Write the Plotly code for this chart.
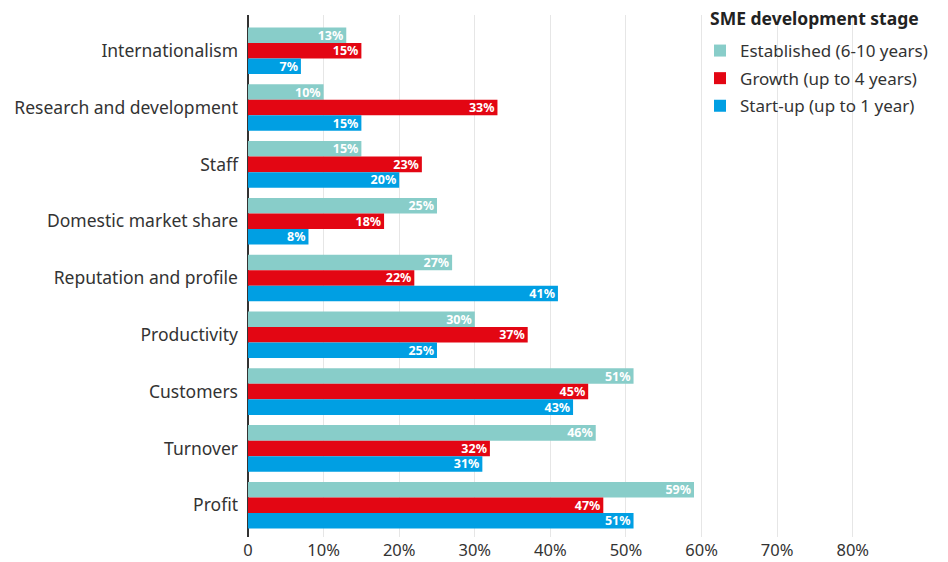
import plotly.graph_objects as go

categories = ["Internationalism", "Research and development", "Staff", "Domestic market share",
              "Reputation and profile", "Productivity", "Customers", "Turnover", "Profit"]
established = [13, 10, 15, 25, 27, 30, 51, 46, 59]
growth = [15, 33, 23, 18, 22, 37, 45, 32, 47]
startup = [7, 15, 20, 8, 41, 25, 43, 31, 51]
series_names = ["Established (6-10 years)", "Growth (up to 4 years)", "Start-up (up to 1 year)"]
colors = ["#88CDC9", "#E30613", "#009FE3"]
tick_vals = [0, 10, 20, 30, 40, 50, 60, 70, 80]
tick_text = ["0", "10%", "20%", "30%", "40%", "50%", "60%", "70%", "80%"]
legend_title = "SME development stage"

FONT = "'Noto Sans', 'Open Sans', sans-serif"
fig = go.Figure()
for i, (name, vals, col) in enumerate(zip(series_names, [established, growth, startup], colors)):
    fig.add_trace(go.Bar(
        y=categories, x=vals, name=name, orientation="h", legendgroup=f"g{i}",
        marker=dict(color=col, line=dict(width=0)),
        text=[f"{v}%" for v in vals], textposition="inside", insidetextanchor="end",
        textfont=dict(color="white", size=12.5, family=FONT, weight="bold"),
        constraintext="none", cliponaxis=False,
    ))

fig.add_annotation(text=f"<b>{legend_title}</b>", xref="paper", yref="paper",
                   x=(708 - 248) / 635, y=1 + (15 - 18) / 522, xanchor="left", yanchor="middle",
                   showarrow=False, font=dict(size=17.5, color="#222222", family=FONT))

fig.update_layout(
    width=948, height=562,
    margin=dict(l=248, r=65, t=15, b=25, autoexpand=False),
    barmode="group", bargap=0.18, bargroupgap=0,
    plot_bgcolor="white", paper_bgcolor="white",
    font=dict(family=FONT, color="#333333", size=17),
    legend=dict(
        x=(700 - 248) / 635, xanchor="left", y=1 + (15 - 33) / 522, yanchor="top",
        font=dict(size=17, color="#333333"), traceorder="grouped",
        bgcolor="rgba(255,255,255,0)", itemwidth=30, tracegroupgap=2.5,
    ),
    xaxis=dict(range=[0, 84], tickvals=tick_vals, ticktext=tick_text,
               showgrid=True, gridcolor="#E6E6E6", gridwidth=1,
               zeroline=True, zerolinecolor="#333333", zerolinewidth=2,
               tickfont=dict(size=16.5, color="#333333"), ticks="", ticklabelstandoff=1,
               automargin=False),
    yaxis=dict(type="category", range=[8.56, -0.63], showgrid=False, zeroline=False,
               tickfont=dict(size=17.5, color="#333333"), ticks="", ticklabelstandoff=9,
               automargin=False),
)
fig.write_html("out.html", post_script="document.body.style.margin='0';",
               config={"displayModeBar": False})
